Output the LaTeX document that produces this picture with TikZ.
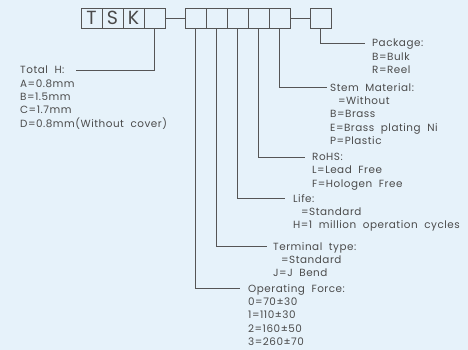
\documentclass[tikz,border=0pt]{standalone}
\usepackage{fontspec}
\setmainfont{Poppins}[LetterSpace=5]
\usetikzlibrary{positioning}
\definecolor{bgblue}{RGB}{230,242,250}
\definecolor{linegray}{RGB}{85,85,85}
\definecolor{textgray}{RGB}{75,75,75}

\begin{document}
\begin{tikzpicture}[
    x=1pt, y=-1pt,
    cell/.style={draw=linegray, line width=0.7pt, minimum width=21pt, minimum height=20pt,
        inner sep=0pt, text=textgray, font=\fontsize{19}{19}\selectfont},
    lead/.style={draw=linegray, line width=0.7pt},
    info/.style={anchor=north west, inner sep=0pt, align=left, text=textgray,
        font=\fontsize{10.4}{13.3}\selectfont}
]
\fill[bgblue] (0,0) rectangle (468,350);
\useasboundingbox (0,0) rectangle (468,350);

% prefix cells
\node[cell] (g1) at (91.5,18) {T};
\node[cell] (g2) at (112.5,18) {S};
\node[cell] (g3) at (133.5,18) {K};
\node[cell] (g4) at (154.5,18) {};

% option cells
\foreach \i/\x in {1/195.5, 2/216.5, 3/237.5, 4/258.5, 5/279.5}
    \node[cell] (c\i) at (\x,18) {};
\node[cell] (pk) at (320.5,18) {};

\draw[lead] (g4.east) -- (c1.west);
\draw[lead] (c5.east) -- (pk.west);

% labels
\node[info] (pkg) at (372,39) {Package:\\B=Bulk\\R=Reel};
\node[info] (stem) at (330,83) {Stem\ \ Material:\\\hspace*{8pt}=Without\\B=Brass\\E=Brass\ \ plating\ \ Ni\\P=Plastic};
\node[info] (rohs) at (312,153) {RoHS:\\L=Lead\ \ Free\\F=Hologen\ \ Free};
\node[info] (life) at (293,194) {Life:\\\hspace*{8pt}=Standard\\H=1\ \ million\ \ operation\ \ cycles};
\node[info] (term) at (273,242) {Terminal\ \ type:\\\hspace*{8pt}=Standard\\J=J\ \ Bend};
\node[info] (force) at (248,284) {Operating\ \ Force:\\0=70±30\\1=110±30\\2=160±50\\3=260±70};
\node[info] (toth) at (20,66) {Total\ \ H:\\A=0.8mm\\B=1.5mm\\C=1.7mm\\D=0.8mm(Without\ \ cover)};
\coordinate (toth-end) at (76,70);

% leaders
\draw[lead] (pk.south) |- ([xshift=-7pt,yshift=-4pt]pkg.north west);
\draw[lead] (c5.south) |- ([xshift=-3pt,yshift=-4pt]stem.north west);
\draw[lead] (c4.south) |- ([xshift=-7pt,yshift=-4pt]rohs.north west);
\draw[lead] (c3.south) |- ([xshift=-8pt,yshift=-4pt]life.north west);
\draw[lead] (c2.south) |- ([xshift=-6pt,yshift=-4pt]term.north west);
\draw[lead] (c1.south) |- ([xshift=-8pt,yshift=-4pt]force.north west);
\draw[lead] (g4.south) |- (toth-end);
\end{tikzpicture}
\end{document}
